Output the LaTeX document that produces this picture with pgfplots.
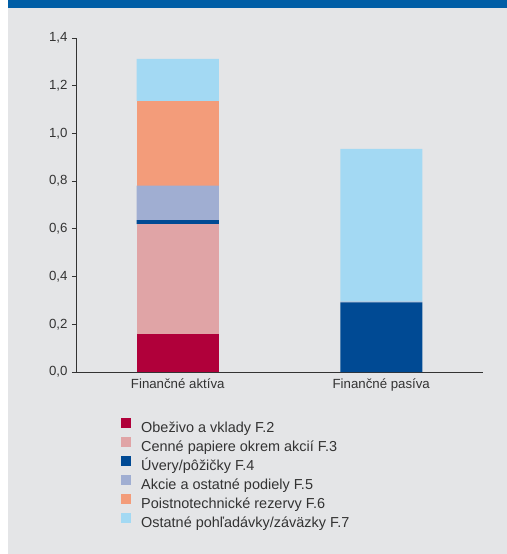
\documentclass[border=0pt]{standalone}
\usepackage{fontspec}
\setmainfont{Liberation Sans}
\usepackage{pgfplots}
\pgfplotsset{compat=1.18}
\definecolor{bg}{HTML}{E4E5E7}
\definecolor{hdr}{HTML}{005EA6}
\definecolor{cF2}{HTML}{B0003A}
\definecolor{cF3}{HTML}{E0A4A6}
\definecolor{cF4}{HTML}{004A94}
\definecolor{cF5}{HTML}{A0AED2}
\definecolor{cF6}{HTML}{F39C7A}
\definecolor{cF7}{HTML}{A3D9F3}
\definecolor{txt}{HTML}{333333}
\newcommand\legtxt[1]{\rule[-3.5bp]{0pt}{14bp}\smash{#1}}
\begin{document}
\begin{tikzpicture}
\fill[white] (-76bp,-182bp) rectangle (431bp,372bp);
\fill[bg] (-68bp,-182bp) rectangle (431bp,364bp);
\fill[hdr] (-68bp,364bp) rectangle (431bp,372bp);
\begin{axis}[
  at={(0,0)}, anchor=south west,
  scale only axis, width=407bp, height=334bp,
  ybar stacked, bar width=82bp,
  xmin=-0.5, xmax=1.5, ymin=0, ymax=1.4,
  xtick={0,1}, xticklabels={Finančné aktíva, Finančné pasíva},
  x tick style={draw=none},
  extra x ticks={-0.5,0.5,1.5}, extra x tick labels={},
  extra x tick style={tick style={draw=txt, line width=0.8bp}, major tick length=4bp, tick align=outside},
  ytick={0,0.2,0.4,0.6,0.8,1.0,1.2,1.4},
  y tick style={draw=txt, line width=0.8bp},
  tick align=outside, major tick length=4bp,
  axis x line*=bottom, axis y line*=left,
  axis line style={txt, line width=0.8bp},
  /pgf/number format/use comma, /pgf/number format/fixed, /pgf/number format/fixed zerofill, /pgf/number format/precision=1, /pgf/number format/assume math mode=true,
  ticklabel style={font=\fontsize{13.3}{15}\selectfont, text=txt},
  yticklabel style={xshift=-1bp},
  xticklabel style={yshift=1bp},
  legend style={at={(0.1106,-0.138)}, anchor=north west, draw=none, fill=none,
    inner sep=0pt, row sep=3bp, column sep=10bp,
    font=\fontsize{14.5}{16}\selectfont, text=txt,
    nodes={inner sep=0pt}},
  legend cell align=left,
  legend image code/.code={\fill[#1] (0bp,0bp) rectangle (10bp,10bp);},
  every axis plot/.append style={draw=none},
]
\addplot[fill=cF2] coordinates {(0,0.159) (1,0)};
\addplot[fill=cF3] coordinates {(0,0.461) (1,0)};
\addplot[fill=cF4] coordinates {(0,0.017) (1,0.292)};
\addplot[fill=cF5] coordinates {(0,0.144) (1,0.003)};
\addplot[fill=cF6] coordinates {(0,0.355) (1,0)};
\addplot[fill=cF7] coordinates {(0,0.176) (1,0.640)};
\legend{\legtxt{Obeživo a vklady F.2}, \legtxt{Cenné papiere okrem akcií F.3}, \legtxt{Úvery/pôžičky F.4}, \legtxt{Akcie a ostatné podiely F.5}, \legtxt{Poistnotechnické rezervy F.6}, \legtxt{Ostatné pohľadávky/záväzky F.7}}
\end{axis}
\pgfresetboundingbox
\useasboundingbox (-76bp,-182bp) rectangle (431bp,372bp);
\end{tikzpicture}
\end{document}
